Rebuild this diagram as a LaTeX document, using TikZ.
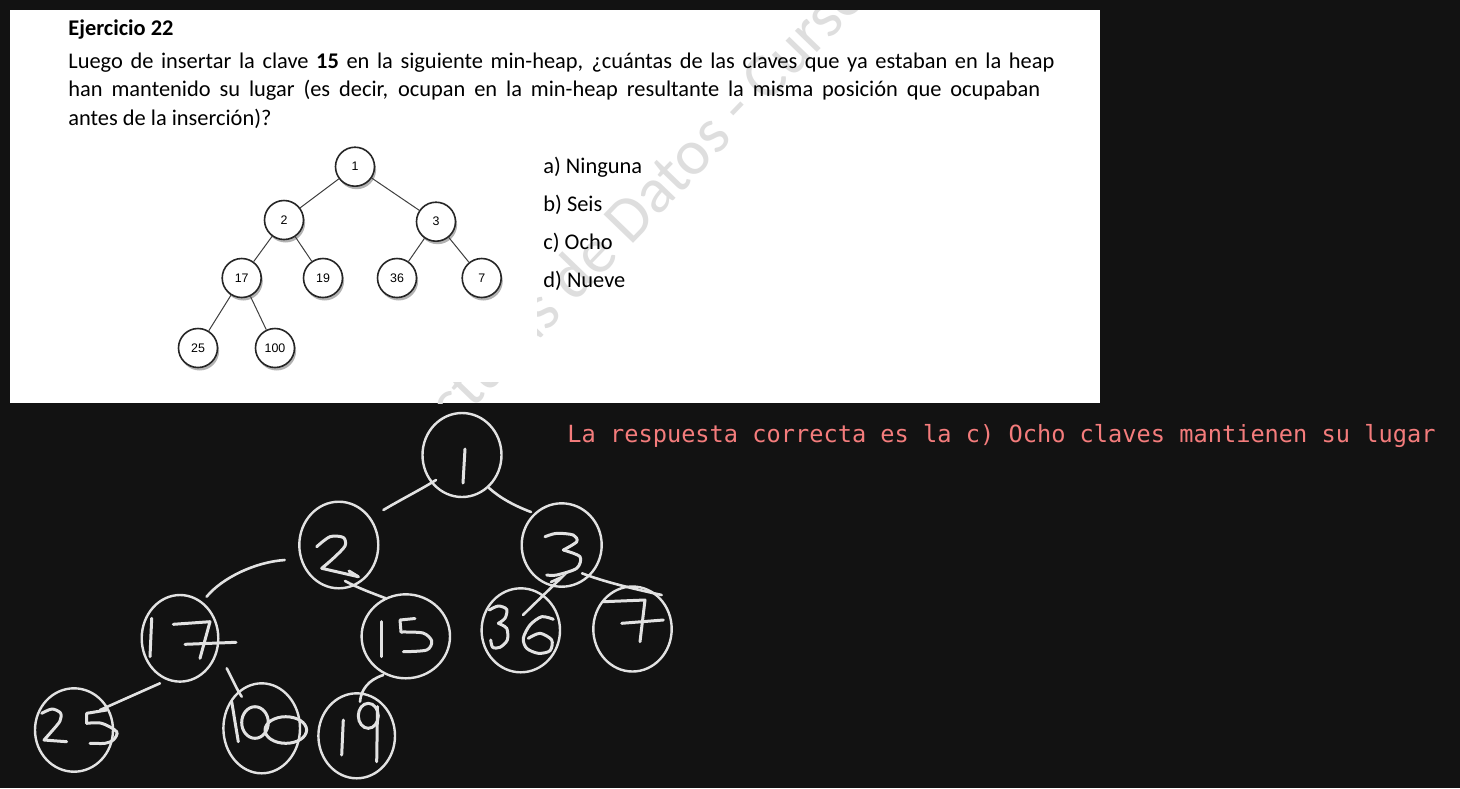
\documentclass[tikz,border=0pt]{standalone}
\usepackage{fontspec}
\setmainfont{Carlito}
\newfontfamily\monofont{DejaVu Sans Mono}
\newfontfamily\arialfont{Liberation Sans}
\usetikzlibrary{shadows,shapes.geometric}
\definecolor{bgdark}{HTML}{121212}
\definecolor{handcol}{HTML}{E2E2E2}
\definecolor{anscol}{HTML}{F47C7C}
\definecolor{wmcol}{HTML}{DEDEDE}
\tikzset{
  wm/.style={font=\fontsize{32}{38}\selectfont, text=wmcol, rotate=46, inner sep=0pt},
  body/.style={font=\fontsize{11.2}{14}\selectfont, anchor=base west, inner sep=0pt},
  tnode/.style={circle, draw=black!85, line width=0.8pt, fill=white, minimum size=19.5pt, inner sep=0pt,
    font=\arialfont\fontsize{6.2}{7}\selectfont,
    drop shadow={shadow xshift=0.8pt, shadow yshift=-1.5pt, fill=black, opacity=0.3}},
  tedge/.style={draw=black!75, line width=0.5pt},
  hnode/.style={ellipse, draw=handcol, line width=1.2pt, inner sep=0pt},
  hedge/.style={draw=handcol, line width=1.3pt, line cap=round},
  hdigit/.style={draw=handcol, line width=1.5pt, line cap=round, line join=round},
}
\begin{document}
\begin{tikzpicture}[x=0.5pt,y=-0.5pt]
\useasboundingbox (0,0) rectangle (1460,788);
\fill[bgdark] (0,0) rectangle (1460,788);
\fill[white] (10,10) rectangle (1100,403);
% watermark
\begin{scope}
\clip (10,10) rectangle (1100,403);
\node[wm, anchor=base east] (wmA) at (564.4,314.4) {Estructuras};
\node[wm, anchor=base west] (wmB) at (wmA.base east) {\ de Datos - Curso};
\end{scope}
% pasted tree picture background
\fill[white] (170,140) rectangle (537,382);
% texts
\node[body, font=\bfseries\fontsize{11.2}{14}\selectfont] (title) at (68,35) {Ejercicio 22};
\node[body] (l1) at (68,68.3) {\makebox[493pt][s]{Luego de insertar la clave \textbf{15} en la siguiente min-heap, ¿cuántas de las claves que ya estaban en la heap}};
\node[body] (l2) at (68,96.7) {\makebox[486pt][s]{han mantenido su lugar (es decir, ocupan en la min-heap resultante la misma posición que ocupaban}};
\node[body] (l3) at (68,125) {antes de la inserción)?};
\node[body] (oa) at (543,173) {a) Ninguna};
\node[body] (ob) at (543,211) {b) Seis};
\node[body] (oc) at (543,249) {c) Ocho};
\node[body] (od) at (543,287) {d) Nueve};
% original heap
\node[tnode] (t1) at (355,166.7) {1};
\node[tnode] (t2) at (284,220) {2};
\node[tnode] (t3) at (436,221.7) {3};
\node[tnode] (t17) at (241.7,278) {17};
\node[tnode] (t19) at (323,278) {19};
\node[tnode] (t36) at (397,278) {36};
\node[tnode] (t7) at (481.7,278) {7};
\node[tnode] (t25) at (198,348) {25};
\node[tnode] (t100) at (275,348) {100};
\draw[tedge] (t1) -- (t2);
\draw[tedge] (t1) -- (t3);
\draw[tedge] (t2) -- (t17);
\draw[tedge] (t2) -- (t19);
\draw[tedge] (t3) -- (t36);
\draw[tedge] (t3) -- (t7);
\draw[tedge] (t17) -- (t25);
\draw[tedge] (t17) -- (t100);
% answer
\node[anchor=base west, inner sep=0pt, font=\monofont\fontsize{11.82}{14}\selectfont, text=anscol] (ans) at (567,442) {La respuesta correcta es la c) Ocho claves mantienen su lugar};
% hand-drawn heap
\node[hnode, minimum width=39.5pt, minimum height=42pt] (h1) at (462,455) {};
\node[hnode, minimum width=39.5pt, minimum height=43.3pt] (h2) at (338.8,545) {};
\node[hnode, minimum width=40pt, minimum height=41.7pt] (h3) at (561.7,545) {};
\node[hnode, minimum width=38.3pt, minimum height=43.3pt] (h17) at (180,638.3) {};
\node[hnode, minimum width=44.2pt, minimum height=42pt] (h15) at (405.8,636.3) {};
\node[hnode, minimum width=39.2pt, minimum height=42pt] (h36) at (520.8,630.3) {};
\node[hnode, minimum width=39.2pt, minimum height=42.5pt] (h7) at (632.5,629) {};
\node[hnode, minimum width=39pt, minimum height=41.7pt] (h25) at (74,730) {};
\node[hnode, minimum width=38.3pt, minimum height=45pt] (h100) at (261.7,728.3) {};
\node[hnode, minimum width=38.3pt, minimum height=42.5pt] (h19) at (356.7,735.8) {};
% hand edges
\coordinate (e12a) at (436,480); \coordinate (e12b) at (383.4,510);
\draw[hedge] (e12a) .. controls (420,490) and (400,500) .. (e12b);
\coordinate (e13a) at (489,488); \coordinate (e13b) at (531,512);
\draw[hedge] (e13a) .. controls (500,498) and (515,506) .. (e13b);
\coordinate (e217a) at (284.7,560); \coordinate (e217b) at (206.6,596.7);
\draw[hedge] (e217a) .. controls (255,562) and (222,578) .. (e217b);
\coordinate (e215a) at (345,581); \coordinate (e215b) at (385.7,598.3);
\draw[hedge] (e215a) .. controls (358,588) and (372,593) .. (e215b);
\coordinate (e336h) at (551,582); \coordinate (e336a) at (562,577); \coordinate (e336b) at (523,615);
\draw[hedge] (e336h) -- (e336a) -- (e336b);
\coordinate (e37a) at (582,573.3); \coordinate (e37b) at (661.7,595);
\draw[hedge] (e37a) .. controls (605,582) and (630,588) .. (e37b);
\coordinate (e1725a) at (160,683.3); \coordinate (e1725b) at (100,710);
\draw[hedge] (e1725a) -- (e1725b);
\coordinate (e17100a) at (226.7,668.3); \coordinate (e17100b) at (241.7,696.7);
\draw[hedge] (e17100a) .. controls (232,678) and (236,688) .. (e17100b);
\coordinate (e1519a) at (383.3,675); \coordinate (e1519b) at (360,701.7);
\draw[hedge] (e1519a) .. controls (368,680) and (361,690) .. (e1519b);
% hand digits
\draw[hdigit] (465,449) -- (463,483);
\draw[hdigit] plot[smooth] coordinates {(316.7,546.7) (330,536.7) (343.3,537.5) (345,546) (333.3,558.3) (321.7,568.3)} -- (358.3,576.7);
\draw[hdigit] (349,571) -- (358.3,576.7);
\draw[hdigit] plot[smooth] coordinates {(545,536.7) (556.7,533.3) (573.3,535) (576.7,541.7) (563.3,550)};
\draw[hdigit] plot[smooth] coordinates {(563.3,550) (580,556.7) (576.7,568.3) (556.7,575) (546.7,575)};
\draw[hdigit] (151.7,618.3) -- (150,656.7);
\draw[hdigit] (173.3,624.3) -- (210,621.7) -- (200,658.3);
\draw[hdigit] (185,644.3) -- (236,642.3);
\draw[hdigit] (381.7,621.7) -- (381.7,656.7);
\draw[hdigit] (415,618.5) -- (400,620) -- (401,632);
\draw[hdigit] plot[smooth] coordinates {(401,632) (423,633) (431.7,641) (426.7,650) (403.3,651.7)};
\draw[hdigit] plot[smooth] coordinates {(489.3,610) (498.3,606) (506.7,609.3) (505,618.3) (498.3,623.3)};
\draw[hdigit] plot[smooth] coordinates {(498.3,623.3) (506.7,628.3) (507.3,640) (500,647.3) (492.7,647.3) (490.7,640)};
\draw[hdigit] plot[smooth] coordinates {(553.3,619.3) (541.7,616.7) (530,625) (523.3,638.3) (526.7,648.3) (538.3,653.3) (550,650.7) (551.7,640) (540,633.3) (528.3,638.3)};
\draw[hdigit] (603.3,601.7) -- (645,600) -- (640,641.7);
\draw[hdigit] (621.7,623.3) -- (663.3,620);
\draw[hdigit] plot[smooth] coordinates {(41.7,713.3) (52,709) (60.5,713) (60,721) (52,731) (44,740)} -- (66.7,741.7);
\draw[hdigit] (106.7,710) -- (86.7,713.3) -- (86.7,723.3);
\draw[hdigit] plot[smooth] coordinates {(86.7,723.3) (101.7,723.3) (116.7,731.7) (113.3,740) (105,743.3) (90,743.3)};
\draw[hdigit] (231.7,701.7) -- (238.3,741.7);
\draw[hdigit] (255,722.5) ellipse [x radius=6.65pt, y radius=7.9pt];
\draw[hdigit] (285.8,730) ellipse [x radius=10.4pt, y radius=6.65pt];
\draw[hdigit] (343.3,720) -- (341.7,755);
\draw[hdigit] (368.3,715.8) ellipse [x radius=5pt, y radius=6.25pt];
\draw[hdigit] (377.5,706.7) -- (376.7,761.7);
\end{tikzpicture}
\end{document}
